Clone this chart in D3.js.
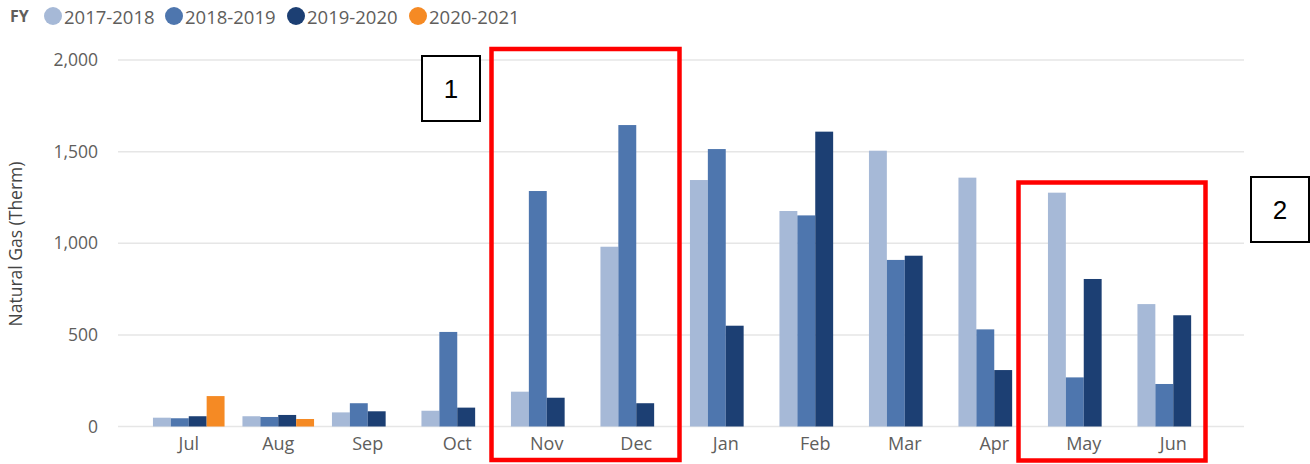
<!DOCTYPE html>
<html>
<head>
<meta charset="utf-8">
<script src="https://cdn.jsdelivr.net/npm/d3@7"></script>
<style>
  body { margin: 0; background: #fff; }
  text { font-family: "Open Sans", "Segoe UI", sans-serif; }
</style>
</head>
<body>
<div id="chart"></div>
<script>
// months of the fiscal year, Jul -> Jun
const months = ['Jul', 'Aug', 'Sep', 'Oct', 'Nov', 'Dec', 'Jan', 'Feb', 'Mar', 'Apr', 'May', 'Jun']
const seriesNames = ['2017-2018', '2018-2019', '2019-2020', '2020-2021']
const seriesColors = ['#A6B9D7', '#4E76AE', '#1C3F73', '#F58A24']

// therms per month, null = no data
const fy1718 = [48, 56, 77, 86, 190, 981, 1345, 1176, 1505, 1358, 1276, 668]
const fy1819 = [45, 52, 127, 516, 1285, 1645, 1514, 1152, 909, 530, 268, 232]
const fy1920 = [56, 63, 83, 103, 157, 127, 550, 1609, 932, 308, 805, 607]
const fy2021 = [166, 41, null, null, null, null, null, null, null, null, null, null]

const yTicks = [0, 500, 1000, 1500, 2000]

const allSeries = [fy1718, fy1819, fy1920, fy2021]

const W = 1310, H = 464

const svg = d3.select('#chart')
  .append('svg')
  .attr('width', W)
  .attr('height', H)

let x = d3.scaleBand()
  .domain(months)
  .range([144, 1218])
  .paddingInner(0.2)
  .paddingOuter(0.1)

let xInner = d3.scaleBand()
  .domain(seriesNames)
  .range([0, x.bandwidth()])

let y = d3.scaleLinear()
  .domain([0, 2000])
  .range([426.5, 60])

// gridlines
svg.append('g')
  .selectAll('line')
  .data(yTicks)
  .enter()
  .append('line')
  .attr('x1', 118)
  .attr('x2', 1244)
  .attr('y1', d => y(d))
  .attr('y2', d => y(d))
  .attr('stroke', '#E6E6E6')
  .attr('stroke-width', 1.5)

// y axis
let yAxis = svg.append('g')
  .attr('transform', 'translate(100,0)')
  .call(d3.axisLeft(y).tickValues(yTicks).tickFormat(d3.format(',')).tickSize(0).tickPadding(2))
yAxis.select('.domain').remove()
yAxis.selectAll('text')
  .attr('font-size', 17.5)
  .attr('fill', '#605E5C')
  .style('font-family', '"Open Sans", sans-serif')

// x axis
let xAxis = svg.append('g')
  .attr('transform', 'translate(0,' + 433 + ')')
  .call(d3.axisBottom(x).tickSize(0).tickPadding(4))
xAxis.select('.domain').remove()
xAxis.selectAll('text')
  .attr('font-size', 18)
  .attr('fill', '#605E5C')
  .style('font-family', '"Open Sans", sans-serif')

// y title
svg.append('text')
  .attr('transform', 'translate(22,244) rotate(-90)')
  .attr('text-anchor', 'middle')
  .attr('font-size', 17.5)
  .attr('fill', '#444')
  .text('Natural Gas (Therm)')

// bars
let barData = []
months.forEach((m, i) => {
  allSeries.forEach((s, j) => {
    if (s[i] != null) barData.push({ month: m, series: seriesNames[j], color: seriesColors[j], value: s[i] })
  })
})

svg.append('g')
  .selectAll('rect')
  .data(barData)
  .enter()
  .append('rect')
  .attr('x', d => x(d.month) + xInner(d.series))
  .attr('y', d => y(d.value))
  .attr('width', xInner.bandwidth())
  .attr('height', d => y(0) - y(d.value))
  .attr('fill', d => d.color)

// legend
let legend = svg.append('g')
legend.append('text')
  .attr('x', 10)
  .attr('y', 16)
  .attr('dominant-baseline', 'central')
  .attr('font-size', 16)
  .attr('font-weight', 'bold')
  .attr('fill', '#605E5C')
  .text('FY')

const legendX = [53, 174, 296, 418]
seriesNames.forEach((name, i) => {
  legend.append('circle')
    .attr('cx', legendX[i])
    .attr('cy', 16)
    .attr('r', 9)
    .attr('fill', seriesColors[i])
  legend.append('text')
    .attr('x', legendX[i] + 11)
    .attr('y', 16)
    .attr('dominant-baseline', 'central')
    .attr('font-size', 18.5)
    .attr('fill', '#605E5C')
    .text(name)
})

// annotation boxes
svg.append('rect')
  .attr('x', 491.5).attr('y', 49).attr('width', 188).attr('height', 411)
  .attr('fill', 'none').attr('stroke', '#FF0000').attr('stroke-width', 4.5)
svg.append('rect')
  .attr('x', 1018.5).attr('y', 182.5).attr('width', 187).attr('height', 278)
  .attr('fill', 'none').attr('stroke', '#FF0000').attr('stroke-width', 4.5)

const notes = [{ label: '1', x: 422, y: 56 }, { label: '2', x: 1251, y: 177 }]
notes.forEach(n => {
  svg.append('rect')
    .attr('x', n.x).attr('y', n.y).attr('width', 58).attr('height', 65)
    .attr('fill', '#fff').attr('stroke', '#000').attr('stroke-width', 2)
  svg.append('text')
    .attr('x', n.x + 29).attr('y', n.y + 33)
    .attr('text-anchor', 'middle')
    .attr('dominant-baseline', 'central')
    .attr('font-size', 26)
    .attr('fill', '#000')
    .style('font-family', '"Liberation Sans", sans-serif')
    .text(n.label)
})
</script>
</body>
</html>
